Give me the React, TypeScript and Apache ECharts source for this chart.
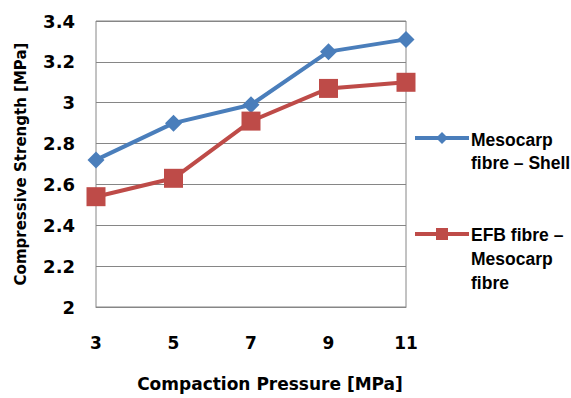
import React, { useEffect, useRef } from "react";
import * as echarts from "echarts";

const categories = ["3", "5", "7", "9", "11"];
const seriesNames = ["Mesocarp fibre – Shell", "EFB fibre – Mesocarp fibre"];
const mesocarpShell = [2.72, 2.9, 2.99, 3.25, 3.31];
const efbMesocarp = [2.54, 2.63, 2.91, 3.07, 3.1];
const yTicks = { min: 2, max: 3.4, interval: 0.2 };
const xTitle = "Compaction Pressure [MPa]";
const yTitle = "Compressive Strength [MPa]";
const legendTexts = ["Mesocarp\nfibre – Shell", "EFB fibre –\nMesocarp\nfibre"];

const BLUE = "#4a7ebb";
const RED = "#be4b48";
const GRID = "#868686";
const FONT = "DejaVu Sans";
const LFONT = "Liberation Sans";

export default function App() {
  const ref = useRef<HTMLDivElement>(null);
  useEffect(() => {
    if (!ref.current) return;
    const chart = echarts.init(ref.current, null, { renderer: "svg" });
    const textBase = { fontFamily: FONT, fontWeight: "bold", color: "#000" };
    chart.setOption({
      animation: false,
      backgroundColor: "#fff",
      grid: {
        left: 96,
        top: 21,
        right: 165,
        bottom: 91,
        show: true,
        borderColor: GRID,
        borderWidth: 1,
        containLabel: false,
      },
      xAxis: {
        type: "category",
        data: categories,
        boundaryGap: false,
        name: xTitle,
        nameLocation: "middle",
        nameGap: 68,
        nameTextStyle: { ...textBase, fontSize: 17, padding: [0, 0, 0, 38] },
        axisLine: { lineStyle: { color: GRID, width: 1 } },
        axisTick: { show: false },
        axisLabel: { ...textBase, fontSize: 17, margin: 27 },
        splitLine: { show: false },
      },
      yAxis: {
        type: "value",
        min: yTicks.min,
        max: yTicks.max,
        interval: yTicks.interval,
        name: yTitle,
        nameLocation: "middle",
        nameGap: 68,
        nameRotate: 90,
        nameTextStyle: { ...textBase, fontSize: 15 },
        axisLine: { show: false },
        axisTick: { show: false },
        axisLabel: {
          ...textBase,
          fontSize: 18,
          margin: 21,
          formatter: (v: number) => String(Math.round(v * 10) / 10),
        },
        splitLine: { show: true, lineStyle: { color: GRID, width: 1 } },
      },
      series: [
        {
          name: seriesNames[0],
          type: "line",
          data: mesocarpShell,
          symbol: "diamond",
          symbolSize: 17,
          lineStyle: { color: BLUE, width: 4 },
          itemStyle: { color: BLUE },
        },
        {
          name: seriesNames[1],
          type: "line",
          data: efbMesocarp,
          symbol: "rect",
          symbolSize: 19,
          lineStyle: { color: RED, width: 4 },
          itemStyle: { color: RED },
        },
      ],
      graphic: [
        { type: "line", shape: { x1: 415, y1: 138, x2: 469, y2: 138 }, style: { stroke: BLUE, lineWidth: 4 } },
        { type: "polygon", shape: { points: [[442, 132], [448, 138], [442, 144], [436, 138]] }, style: { fill: BLUE } },
        {
          type: "text",
          left: 471,
          top: 128.5,
          style: { text: legendTexts[0], fontFamily: LFONT, fontWeight: "bold", fontSize: 17.5, lineHeight: 23, fill: "#000" },
        },
        { type: "line", shape: { x1: 415, y1: 234, x2: 469, y2: 234 }, style: { stroke: RED, lineWidth: 4 } },
        { type: "rect", shape: { x: 436, y: 228, width: 12, height: 12 }, style: { fill: RED } },
        {
          type: "text",
          left: 471,
          top: 223,
          style: { text: legendTexts[1], fontFamily: LFONT, fontWeight: "bold", fontSize: 17.5, lineHeight: 24, fill: "#000" },
        },
      ],
    });
    return () => chart.dispose();
  }, []);
  return <div ref={ref} style={{ width: 571, height: 398, position: "absolute", left: 0, top: 0 }} />;
}
